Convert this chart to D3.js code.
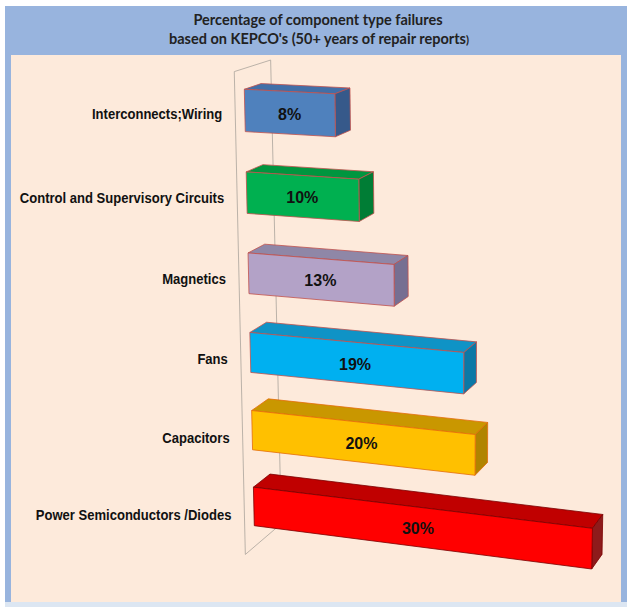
<!DOCTYPE html>
<html>
<head>
<meta charset="utf-8">
<script src="https://cdn.jsdelivr.net/npm/d3@7"></script>
<style>
  body { margin: 0; background: #ffffff; }
</style>
</head>
<body>
<div id="grafico"></div>
<script>
const WIDTH = 627;
const HEIGHT = 607;

// data (top bar first)
const categories = [
    "Interconnects;Wiring",
    "Control and Supervisory Circuits",
    "Magnetics",
    "Fans",
    "Capacitors",
    "Power Semiconductors /Diodes"
];
const values = [8, 10, 13, 19, 20, 30];
const frontColors = ["#4f81bd", "#00b050", "#b3a2c7", "#00b0f0", "#ffc000", "#ff0000"];
const topColors   = ["#416fa8", "#00963f", "#8f87a7", "#0f93c6", "#c99700", "#c00000"];
const sideColors  = ["#36598a", "#007d35", "#766f92", "#0b78a6", "#b08400", "#8e1b1b"];
const edgeColors  = ["#c0504d", "#c0504d", "#c0504d", "#c0504d", "#e46c0a", "#7a0000"];
const titleLines = ["Percentage of component type failures", "based on KEPCO's (50+ years of repair reports"];
const xMax = 30;

let svg = d3.select("#grafico")
    .append("svg")
    .attr("width", WIDTH)
    .attr("height", HEIGHT);

// frame: blue header, peach plot area
svg.append("rect").attr("x", 5).attr("y", 6).attr("width", 622).attr("height", 601).attr("fill", "#98b4de");
svg.append("rect").attr("x", 5).attr("y", 602).attr("width", 622).attr("height", 5).attr("fill", "#dce6f2");
svg.append("rect").attr("x", 11).attr("y", 55).attr("width", 610).attr("height", 547).attr("fill", "#fdeadb");

let title = svg.append("g")
    .style("font-family", "Lato, 'Open Sans', sans-serif")
    .style("font-weight", "bold")
    .style("font-size", "14.5px")
    .style("fill", "#222");
title.append("text").attr("x", 318).attr("y", 25).attr("text-anchor", "middle").text(titleLines[0]);
let t2 = title.append("text").attr("x", 319).attr("y", 44).attr("text-anchor", "middle");
t2.append("tspan").text(titleLines[1]);
t2.append("tspan").style("font-size", "11px").text(")");

// perspective: front plane (unit square) -> screen quad, depth goes toward a vanishing point
let corners = [[244.3, 89.3], [600, 106.9], [591.7, 569], [254.3, 525.7]];
let vpDepth = [1150, -220];
let depthStep = 0.0185;

function squareToQuad(p) {
    let [x0, y0] = p[0], [x1, y1] = p[1], [x2, y2] = p[2], [x3, y3] = p[3];
    let dx1 = x1 - x2, dx2 = x3 - x2, dx3 = x0 - x1 + x2 - x3;
    let dy1 = y1 - y2, dy2 = y3 - y2, dy3 = y0 - y1 + y2 - y3;
    let den = dx1 * dy2 - dx2 * dy1;
    let g = (dx3 * dy2 - dx2 * dy3) / den;
    let h = (dx1 * dy3 - dx3 * dy1) / den;
    let a = x1 - x0 + g * x1, b = x3 - x0 + h * x3;
    let d = y1 - y0 + g * y1, e = y3 - y0 + h * y3;
    return (u, v) => {
        let w = g * u + h * v + 1;
        return [(a * u + b * v + x0) / w, (d * u + e * v + y0) / w];
    };
}
let plane = squareToQuad(corners);

function project(u, v, z) {
    let f = plane(u, v);
    let t = z * depthStep;
    return [f[0] + (vpDepth[0] - f[0]) * t, f[1] + (vpDepth[1] - f[1]) * t];
}

let x = d3.scaleLinear().domain([0, xMax]).range([0, 1]);
let y = d3.scaleBand().domain(categories).range([0, 1]).paddingInner(0.49).paddingOuter(0);

let line = d3.line();
function face(pts) {
    return line(pts.map(p => project(p[0], p[1], p[2]))) + "Z";
}

// side wall at the base of the bars
svg.append("path")
    .attr("d", face([[0, -0.045, -0.57], [0, -0.045, 1.6], [0, 1.05, 1.6], [0, 1.05, -0.57]]))
    .attr("fill", "none")
    .attr("stroke", "#b3aba3")
    .attr("stroke-width", 0.9);

let bars = svg.append("g")
    .selectAll("g")
    .data(categories)
    .enter()
    .append("g");

bars.append("path")
    .attr("d", (c, i) => {
        let v0 = y(c), v1 = y(c) + y.bandwidth(), u1 = x(values[i]);
        return face([[0, v0, 0], [u1, v0, 0], [u1, v0, 1], [0, v0, 1]]);
    })
    .attr("fill", (c, i) => topColors[i])
    .attr("stroke", (c, i) => edgeColors[i])
    .attr("stroke-width", 0.8)
    .attr("stroke-linejoin", "round");

bars.append("path")
    .attr("d", (c, i) => {
        let v0 = y(c), v1 = y(c) + y.bandwidth(), u1 = x(values[i]);
        return face([[u1, v0, 0], [u1, v0, 1], [u1, v1, 1], [u1, v1, 0]]);
    })
    .attr("fill", (c, i) => sideColors[i])
    .attr("stroke", (c, i) => edgeColors[i])
    .attr("stroke-width", 0.8)
    .attr("stroke-linejoin", "round");

bars.append("path")
    .attr("d", (c, i) => {
        let v0 = y(c), v1 = y(c) + y.bandwidth(), u1 = x(values[i]);
        return face([[0, v0, 0], [u1, v0, 0], [u1, v1, 0], [0, v1, 0]]);
    })
    .attr("fill", (c, i) => frontColors[i])
    .attr("stroke", (c, i) => edgeColors[i])
    .attr("stroke-width", 0.8)
    .attr("stroke-linejoin", "round");

// value labels in the middle of the front face
bars.append("text")
    .attr("x", (c, i) => project(x(values[i]) / 2, y(c) + y.bandwidth() / 2, 0)[0])
    .attr("y", (c, i) => project(x(values[i]) / 2, y(c) + y.bandwidth() / 2, 0)[1] + 7)
    .attr("text-anchor", "middle")
    .style("font-family", "'Liberation Sans', Arial, sans-serif")
    .style("font-weight", "bold")
    .style("font-size", "16px")
    .style("fill", "#111")
    .text((c, i) => values[i] + "%");

// category labels sit on the front edge of the wall
bars.append("text")
    .attr("transform", c => {
        let p = project(0, y(c) + y.bandwidth() / 2, -0.57);
        return "translate(" + (p[0] - 13) + "," + (p[1] + 5.5) + ") scale(0.87,1)";
    })
    .attr("text-anchor", "end")
    .style("font-family", "'Liberation Sans', Arial, sans-serif")
    .style("font-weight", "bold")
    .style("font-size", "15px")
    .style("fill", "#111")
    .text(c => c);
</script>
</body>
</html>
